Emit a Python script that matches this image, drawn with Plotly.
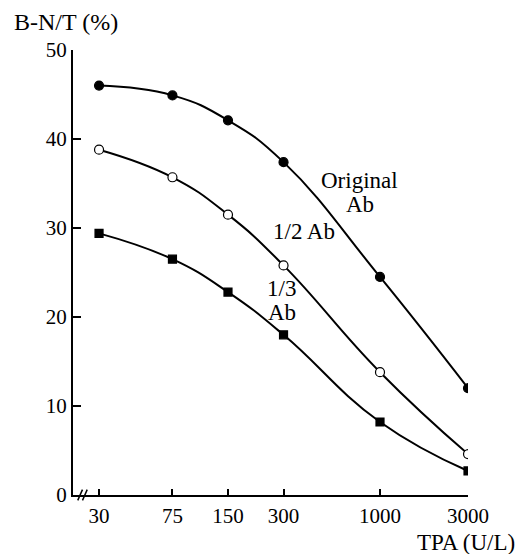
import plotly.graph_objects as go

tpa = [30, 75, 150, 300, 1000, 3000]
original_ab = [46.0, 44.9, 42.1, 37.4, 24.5, 12.0]
half_ab = [38.8, 35.7, 31.5, 25.8, 13.8, 4.6]
third_ab = [29.4, 26.5, 22.8, 18.0, 8.2, 2.7]
x_ticks = [30, 75, 150, 300, 1000, 3000]
y_ticks = [0, 10, 20, 30, 40, 50]

FONT = "Liberation Serif"

fig = go.Figure()

def add(y, symbol, fill):
    fig.add_trace(go.Scatter(
        x=tpa, y=y, mode="lines+markers",
        line=dict(color="black", width=2, shape="spline", smoothing=1.3),
        marker=dict(symbol=symbol, size=9 if symbol == "circle" else 8,
                    color="black" if fill else "white",
                    line=dict(color="black", width=1.2)),
        showlegend=False))

add(original_ab, "circle", True)
add(half_ab, "circle", False)
add(third_ab, "square", True)

fig.update_layout(
    width=515, height=546,
    margin=dict(l=65, r=55, t=42, b=59),
    paper_bgcolor="white", plot_bgcolor="white",
    font=dict(family=FONT, color="black", size=22),
)
fig.update_xaxes(
    type="log", range=[1.336, 3.477],
    tickvals=x_ticks, ticktext=[str(v) for v in x_ticks],
    showline=True, linecolor="black", linewidth=2,
    ticks="inside", ticklen=6, tickwidth=2, tickcolor="black",
    showgrid=False, zeroline=False,
    tickfont=dict(family=FONT, size=21), ticklabelstandoff=1,
)
fig.update_yaxes(
    range=[0, 50], tickvals=y_ticks,
    showline=True, linecolor="black", linewidth=2,
    ticks="inside", ticklen=8, tickwidth=2, tickcolor="black",
    showgrid=False, zeroline=False,
    tickfont=dict(family=FONT, size=21),
)

def label(text, px, py, anchor="center", size=23):
    # px, py: position in plot-area pixels (origin at the axes corner)
    fig.add_annotation(text=text, x=(px - 73) / 395, y=(495 - py) / 445,
                       xref="paper", yref="paper", showarrow=False,
                       xanchor=anchor, yanchor="middle",
                       font=dict(family=FONT, size=size, color="black"))

label("Original", 359, 180)
label("Ab", 360, 205)
label("1/2 Ab", 304, 232)
label("1/3", 281, 288)
label("Ab", 282, 312)
label("TPA (U/L)", 517, 542, anchor="right", size=23)
label("B-N/T (%)", 12, 22, anchor="left", size=24)

# axis break mark "//"
for dx in (0.0, 0.012):
    fig.add_shape(type="line", xref="paper", yref="paper",
                  x0=0.012 + dx, y0=-0.012, x1=0.024 + dx, y1=0.012,
                  line=dict(color="black", width=1.5))

fig.write_html("out.html")
